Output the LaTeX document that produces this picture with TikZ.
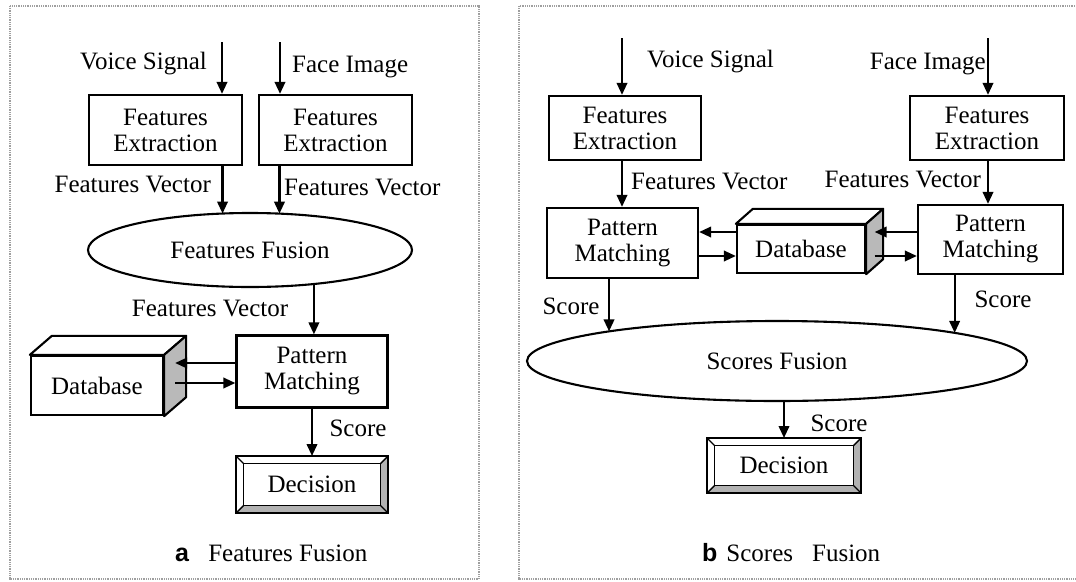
\documentclass[tikz,border=0pt]{standalone}
\usepackage{fontspec}
\setmainfont{Liberation Serif}
\setsansfont{Liberation Sans}
\usetikzlibrary{arrows.meta,calc,shapes.geometric}

\newcommand{\lbl}{\fontsize{25}{26}\selectfont}

% beveled frame around a node: #1 node name, #2 bevel inset
\newcommand{\bevelframe}[2]{%
  \fill[gray!60] (#1.north east) -- (#1.south east) -- (#1.south west)
    -- ($(#1.south west)+(#2,-#2)$) -- ($(#1.south east)+(-#2,-#2)$)
    -- ($(#1.north east)+(-#2,#2)$) -- cycle;
  \draw[line width=2.2pt] (#1.north west) rectangle (#1.south east);
  \draw[line width=1.8pt] ($(#1.north west)+(#2,#2)$) rectangle ($(#1.south east)+(-#2,-#2)$);
  \foreach \cn/\dx/\dy in {north west/1/1, north east/-1/1, south east/-1/-1, south west/1/-1}
    \draw[line width=1.4pt] (#1.\cn) -- ++(\dx*#2,\dy*#2);
}

% cuboid drawn from a front-face node: #1 node name, #2 dx, #3 dy (upwards)
\newcommand{\cuboid}[3]{%
  \draw[line width=2.1pt, fill=white, line join=round] (#1.north west) -- ++(#2,-#3)
    -- ($(#1.north east)+(#2,-#3)$) -- (#1.north east) -- cycle;
  \draw[line width=2.1pt, fill=gray!55, line join=round] (#1.north east) -- ++(#2,-#3)
    -- ($(#1.south east)+(#2,-#3)$) -- (#1.south east) -- cycle;
}

\begin{document}
\begin{tikzpicture}[x=1pt,y=-1pt,
  box/.style={draw, line width=2.3pt, fill=white, inner sep=0pt, align=center, font=\lbl},
  lab/.style={inner sep=0pt, font=\lbl},
  arr/.style={line width=2.2pt, -{Triangle[length=12pt,width=10.5pt]}},
  oval/.style={ellipse, draw, line width=2.1pt, inner sep=0pt, outer sep=0pt, font=\lbl},
  panel/.style={draw=gray!75, line width=1.6pt, dash pattern=on 1pt off 0.8pt},
  plain/.style={inner sep=0pt, outer sep=0pt, font=\lbl},
]
\useasboundingbox (0,0) rectangle (1076,581);
\clip (0,0) rectangle (1076,581);

% panel frames
\draw[panel] (10,6) rectangle (479,579);
\draw[panel] (1090,579) -- (519,579) -- (519,6) -- (1090,6);

%% ---------------- (a) features fusion ----------------
\node[box, minimum width=153, minimum height=70] (exV) at (165.5,130) {Features\\Extraction};
\node[box, minimum width=153, minimum height=70] (exF) at (335.5,130) {Features\\Extraction};
\coordinate (inV) at (222,42);
\coordinate (inF) at (280,42);
\node[lab, anchor=east] at (207,64) {Voice Signal};
\node[lab, anchor=west] at (292,67) {Face Image};
\draw[arr] (inV) -- (inV |- exV.north);
\draw[arr] (inF) -- (inF |- exF.north);

\node[oval, minimum width=324, minimum height=74] (ff) at (250,250) {Features Fusion};
\draw[arr] (ff.127.54 |- exV.south) -- (ff.127.54);
\draw[arr] (ff.51.45 |- exF.south) -- (ff.51.45);
\node[lab, anchor=east] at (211,185) {Features Vector};
\node[lab, anchor=west] at (284,188) {Features Vector};

\node[box, minimum width=151, minimum height=72] (pmA) at (312,371.5) {Pattern\\Matching};
\draw[arr] (ff.-28.87) -- (ff.-28.87 |- pmA.north);
\node[lab] at (210,308) {Features Vector};

\node[box, minimum width=132, minimum height=59] (dbA) at (97,385.5) {Database};
\cuboid{dbA}{22}{19}
\coordinate (dbAs) at ($(dbA.east)+(11,0)$);
\coordinate (pA1) at ([yshift=8.5pt]pmA.west);
\coordinate (pA2) at ([yshift=-11.5pt]pmA.west);
\draw[arr] (pA1) -- (pA1 -| dbAs);
\draw[arr] (pA2 -| dbAs) -- (pA2);

\node[plain, minimum width=152, minimum height=57] (decA) at (312,484.5) {};
\bevelframe{decA}{7.5}
\node[lab] at (decA.center) {Decision};
\draw[arr] (pmA.south) -- (decA.north);
\node[lab] at (358,428) {Score};

\node[lab, anchor=west] at (175,553) {\textsf{\bfseries a}\hspace{19pt}Features Fusion};

%% ---------------- (b) scores fusion ----------------
\node[box, minimum width=152, minimum height=64] (exV2) at (625,128) {Features\\Extraction};
\node[box, minimum width=154, minimum height=64] (exF2) at (987,128) {Features\\Extraction};
\coordinate (inV2) at (622,38);
\coordinate (inF2) at (988,38);
\node[lab, anchor=west] at (647,62) {Voice Signal};
\node[lab, anchor=east] at (986,64) {Face Image};
\draw[arr] (inV2) -- (inV2 |- exV2.north);
\draw[arr] (inF2) -- (inF2 |- exF2.north);

\node[box, minimum width=151, minimum height=70] (pmB1) at (622.5,243) {Pattern\\Matching};
\node[box, minimum width=145, minimum height=69] (pmB2) at (990.5,239.5) {Pattern\\Matching};
\draw[arr] (inV2 |- exV2.south) -- (inV2 |- pmB1.north);
\draw[arr] (inF2 |- exF2.south) -- (inF2 |- pmB2.north);
\node[lab, anchor=west] at (631,182) {Features Vector};
\node[lab, anchor=east] at (981,180) {Features Vector};

\node[box, minimum width=128, minimum height=48] (dbB) at (801,249) {Database};
\cuboid{dbB}{17}{15}
\coordinate (dB1) at ([yshift=17pt]dbB.west);
\coordinate (dB2) at ([yshift=-7pt]dbB.west);
\coordinate (dBs) at ($(dbB.east)+(8.5,0)$);
\draw[arr] (dB1) -- (dB1 -| pmB1.east);
\draw[arr] (dB2 -| pmB1.east) -- (dB2);
\draw[arr] (dB1 -| pmB2.west) -- (dB1 -| dBs);
\draw[arr] (dB2 -| dBs) -- (dB2 -| pmB2.west);

\node[oval, minimum width=500, minimum height=80] (sf) at (777,361) {Scores Fusion};
\draw[arr] (sf.170.1 |- pmB1.south) -- (sf.170.1);
\draw[arr] (sf.9.79 |- pmB2.south) -- (sf.9.79);
\node[lab] at (571,306) {Score};
\node[lab] at (1003,299) {Score};

\node[plain, minimum width=154, minimum height=55] (decB) at (784,465.5) {};
\bevelframe{decB}{7.5}
\node[lab] at (decB.center) {Decision};
\draw[arr] (decB.north |- sf.south) -- (decB.north);
\node[lab] at (839,423) {Score};

\node[lab, anchor=west] at (702,553) {\textsf{\bfseries b}\hspace{9pt}Scores\hspace{19pt}Fusion};
\end{tikzpicture}
\end{document}
